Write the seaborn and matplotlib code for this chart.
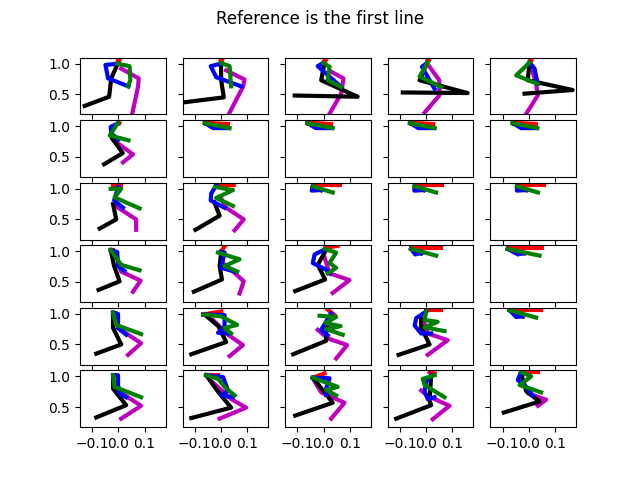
import matplotlib
matplotlib.use("Agg")
import matplotlib.pyplot as plt
import seaborn as sns

title = "Reference is the first line"
x_ticks = [-0.1, 0.0, 0.1]
y_ticks = [0.5, 1.0]

# One entry per panel (row-major, 6 rows x 5 columns)
red_x = [
    [0.0, 0.004], [0.0, 0.004], [0.004, 0.008], [0.006, 0.01], [0.006, 0.01],
    [0.0, 0.004], [-0.062, 0.027], [-0.062, 0.029], [-0.062, 0.027], [-0.062, 0.027],
    [-0.02, 0.011], [-0.018, 0.049], [-0.041, 0.061], [-0.044, 0.061], [-0.044, 0.057],
    [-0.029, -0.02], [0.014, 0.001], [0.01, 0.054], [-0.057, 0.057], [-0.08, 0.051],
    [-0.02, -0.012], [-0.068, 0.001], [0.016, 0.042], [0.0, 0.057], [-0.073, 0.047],
    [-0.02, -0.012], [-0.056, -0.011], [-0.034, 0.004], [0.013, 0.032], [-0.029, 0.034],
]
red_y = [
    [1.06, 1.05], [1.06, 1.05], [1.06, 1.05], [1.06, 1.05], [1.06, 1.05],
    [1.06, 1.05], [1.06, 1.035], [1.06, 1.035], [1.06, 1.035], [1.06, 1.035],
    [1.04, 1.04], [1.07, 1.06], [1.07, 1.07], [1.07, 1.07], [1.07, 1.07],
    [1.03, 1.03], [1.08, 1.0], [1.06, 1.09], [1.06, 1.06], [1.06, 1.06],
    [1.02, 1.02], [0.99, 1.04], [1.07, 0.98], [1.07, 1.07], [1.07, 1.07],
    [1.02, 1.02], [1.03, 1.03], [0.99, 1.05], [1.07, 1.05], [1.08, 1.08],
]

blue_x = [
    [0.0, -0.049, -0.039, 0.039], [0.0, -0.039, -0.018, 0.077], [-0.003, -0.022, 0.067],
    [0.0, -0.016, 0.032], [0.003, 0.022, 0.034],
    [-0.004, -0.029, -0.027, 0.0], [-0.056, -0.03, 0.027], [-0.056, -0.03, 0.029],
    [-0.056, -0.03, 0.027], [-0.056, -0.03, 0.027],
    [0.0, -0.016, 0.018], [-0.018, -0.037, -0.039, 0.014], [-0.041, -0.045, -0.01],
    [-0.044, -0.045, -0.01], [-0.044, -0.045, -0.01],
    [-0.029, -0.004, -0.001, 0.024], [0.0, 0.014, 0.001, 0.052],
    [0.004, -0.034, -0.041, 0.01, 0.023], [-0.057, -0.042, -0.019], [-0.08, -0.042, -0.017],
    [-0.02, -0.001, -0.001, 0.03], [-0.068, 0.014, 0.014, -0.011, 0.033],
    [0.029, -0.009, 0.016], [0.0, -0.038, -0.044, -0.019, 0.019], [-0.073, -0.048, -0.023],
    [-0.02, -0.001, -0.001, 0.005, 0.03], [-0.056, 0.008, 0.027, 0.001, 0.046],
    [-0.041, 0.023, 0.01, 0.01], [0.019, 0.0, -0.006, 0.006, 0.032], [-0.029, -0.042, -0.016, 0.015],
]
blue_y = [
    [1.0, 0.98, 0.76, 0.63], [1.0, 0.96, 0.78, 0.63], [1.01, 0.96, 0.62],
    [1.0, 0.95, 0.59], [1.02, 0.92, 0.67],
    [1.04, 0.99, 0.88, 0.78], [1.04, 0.97, 0.97], [1.04, 0.97, 0.97],
    [1.04, 0.97, 0.97], [1.04, 0.97, 0.97],
    [1.03, 0.81, 0.69], [1.06, 0.92, 0.81, 0.69], [1.04, 0.97, 0.98],
    [1.04, 0.97, 0.98], [1.04, 0.97, 0.98],
    [1.02, 0.99, 0.76, 0.68], [0.99, 0.98, 0.73, 0.67],
    [1.03, 0.95, 0.81, 0.7, 0.64], [1.04, 0.95, 0.97], [1.04, 0.95, 0.97],
    [1.02, 1.0, 0.77, 0.66], [0.99, 0.98, 0.79, 0.69, 0.68],
    [1.01, 0.74, 0.65], [1.04, 0.93, 0.81, 0.68, 0.68], [1.06, 0.95, 0.96],
    [1.02, 1.02, 0.86, 0.72, 0.66], [1.02, 0.99, 0.77, 0.69, 0.66],
    [0.98, 0.97, 0.8, 0.7], [1.02, 0.91, 0.76, 0.63, 0.66], [1.08, 0.94, 0.86, 0.69],
]

green_x = [
    [-0.004, 0.043, 0.046, 0.037], [0.001, 0.033, 0.039], [0.0, 0.023, 0.016, 0.067],
    [0.006, -0.025, 0.057], [0.003, -0.048, 0.034],
    [0.0, -0.033, 0.039], [-0.062, 0.033], [-0.062, 0.035], [-0.062, 0.033], [-0.062, 0.033],
    [-0.029, 0.011, -0.014, 0.081], [-0.022, 0.046, -0.018, 0.046], [-0.041, 0.035],
    [-0.044, 0.038], [-0.044, 0.035],
    [-0.029, 0.011, 0.081], [-0.011, 0.071, 0.014, 0.062],
    [0.004, 0.048, 0.023, 0.048, 0.016], [-0.057, 0.038], [-0.08, 0.041],
    [-0.02, -0.008, 0.087], [-0.068, 0.001, 0.062, 0.014, 0.039],
    [-0.015, 0.048, 0.006, 0.065, 0.01, 0.073], [0.0, -0.006, 0.044, -0.006, 0.07], [-0.073, 0.028],
    [-0.02, -0.014, 0.087], [-0.056, -0.011, 0.014, 0.052],
    [-0.041, 0.054, 0.01, 0.048], [0.032, -0.013, -0.006, 0.07], [-0.029, 0.009, -0.035, 0.047],
]
green_y = [
    [1.0, 0.96, 0.73, 0.63], [1.01, 0.96, 0.63], [1.01, 0.95, 0.73, 0.62],
    [1.02, 0.79, 0.62], [1.02, 0.81, 0.67],
    [1.06, 0.85, 0.77], [1.05, 0.97], [1.05, 0.97], [1.05, 0.97], [1.05, 0.97],
    [1.0, 1.0, 0.86, 0.68], [1.03, 0.98, 0.85, 0.72], [1.04, 0.94],
    [1.04, 0.94], [1.04, 0.94],
    [1.02, 0.78, 0.69], [0.98, 0.87, 0.76, 0.67],
    [1.04, 0.98, 0.81, 0.73, 0.64], [1.04, 0.93], [1.04, 0.93],
    [1.02, 0.82, 0.67], [0.99, 0.96, 0.82, 0.77, 0.68],
    [0.97, 0.95, 0.85, 0.8, 0.75, 0.66], [1.04, 0.9, 0.87, 0.78, 0.72], [1.06, 0.94],
    [1.02, 0.83, 0.66], [1.02, 0.96, 0.83, 0.69],
    [0.98, 0.83, 0.78, 0.69], [1.02, 0.96, 0.86, 0.66], [1.07, 1.0, 0.86, 0.74],
]

magenta_x = [
    [0.011, 0.078, 0.075, 0.053], [0.02, 0.09, 0.084, 0.033], [0.029, 0.076, 0.067, 0.023],
    [0.013, 0.05, 0.05, -0.006], [0.009, 0.028, 0.034, -0.01],
    [-0.008, 0.056, 0.018], [-0.056, 0.0], [-0.056, 0.0], [-0.056, 0.0], [-0.056, 0.0],
    [-0.011, 0.068, 0.068], [0.0, 0.02, 0.087, 0.052], [-0.041, -0.01],
    [-0.044, -0.01], [-0.044, -0.01],
    [0.0, 0.011, 0.085, 0.056], [0.01, 0.039, 0.087, 0.071],
    [0.004, 0.023, 0.099, 0.035], [-0.057, -0.019], [-0.08, -0.017],
    [-0.001, 0.087, 0.037], [-0.03, 0.027, 0.084, 0.033],
    [-0.022, 0.016, 0.09, 0.048], [-0.01, 0.006, 0.082, 0.006], [-0.073, -0.023],
    [-0.014, 0.087, 0.011], [-0.03, 0.039, 0.096, -0.005],
    [-0.041, -0.009, 0.08, 0.029], [-0.019, 0.006, 0.089, 0.025], [0.0, 0.066, 0.035],
]
magenta_y = [
    [0.92, 0.76, 0.62, 0.18], [0.89, 0.74, 0.62, 0.2], [0.87, 0.76, 0.51, 0.18],
    [0.95, 0.73, 0.48, 0.2], [0.95, 0.67, 0.48, 0.18],
    [0.74, 0.54, 0.41], [1.04, 0.99], [1.04, 0.99], [1.04, 0.99], [1.04, 0.99],
    [0.72, 0.5, 0.33], [0.85, 0.69, 0.5, 0.32], [1.04, 0.98],
    [1.04, 0.98], [1.04, 0.98],
    [0.8, 0.67, 0.52, 0.34], [0.8, 0.7, 0.51, 0.31],
    [0.9, 0.64, 0.53, 0.32], [1.04, 0.97], [1.04, 0.97],
    [0.77, 0.52, 0.33], [0.9, 0.66, 0.49, 0.31],
    [0.74, 0.6, 0.49, 0.27], [0.9, 0.68, 0.57, 0.33], [1.06, 0.96],
    [0.8, 0.52, 0.31], [0.9, 0.63, 0.49, 0.31],
    [0.97, 0.74, 0.57, 0.31], [0.77, 0.68, 0.52, 0.3], [0.72, 0.62, 0.52],
]

black_x = [
    [0.0, -0.027, -0.035, -0.128], [0.0, 0.001, 0.011, -0.138], [0.004, -0.009, 0.13, -0.11],
    [0.004, -0.025, 0.158, -0.089], [0.003, -0.004, 0.167, -0.016],
    [-0.02, -0.025, 0.017, -0.054], [-0.056, 0.0], [-0.056, 0.0], [-0.056, 0.0], [-0.056, 0.0],
    [-0.02, -0.008, -0.071], [-0.025, -0.005, -0.097], [-0.041, -0.01],
    [-0.044, -0.01], [-0.044, -0.01],
    [-0.029, -0.016, 0.005, -0.075], [0.001, -0.005, 0.004, -0.103],
    [0.004, -0.022, 0.006, -0.108], [-0.057, -0.019], [-0.08, -0.017],
    [-0.02, -0.02, 0.011, -0.084], [-0.062, -0.01, 0.02, -0.113],
    [0.029, 0.01, 0.01, -0.116], [-0.019, -0.019, 0.013, -0.105], [-0.073, -0.023],
    [-0.02, -0.02, 0.03, -0.084], [-0.056, -0.011, 0.039, -0.113],
    [-0.041, 0.004, 0.035, -0.108], [0.019, 0.013, 0.019, -0.114], [-0.029, -0.01, 0.041, -0.095],
]
black_y = [
    [1.02, 0.76, 0.46, 0.31], [1.02, 0.73, 0.45, 0.37], [1.02, 0.73, 0.46, 0.48],
    [1.02, 0.73, 0.52, 0.53], [1.02, 0.73, 0.57, 0.51],
    [0.85, 0.81, 0.56, 0.38], [1.04, 0.99], [1.04, 0.99], [1.04, 0.99], [1.04, 0.99],
    [0.75, 0.5, 0.35], [0.78, 0.56, 0.33], [1.04, 0.98],
    [1.04, 0.98], [1.04, 0.98],
    [1.02, 0.76, 0.51, 0.37], [0.98, 0.76, 0.54, 0.34],
    [0.98, 0.78, 0.54, 0.35], [1.04, 0.97], [1.04, 0.97],
    [1.02, 0.77, 0.5, 0.35], [0.99, 0.8, 0.54, 0.34],
    [1.01, 0.73, 0.56, 0.34], [0.92, 0.78, 0.5, 0.33], [1.06, 0.96],
    [1.02, 0.8, 0.53, 0.33], [1.02, 0.75, 0.49, 0.32],
    [0.98, 0.74, 0.57, 0.36], [1.02, 0.6, 0.53, 0.31], [1.05, 0.76, 0.59, 0.41],
]

series = [
    ("m", magenta_x, magenta_y),
    ("k", black_x, black_y),
    ("r", red_x, red_y),
    ("b", blue_x, blue_y),
    ("g", green_x, green_y),
]

fig, axes = plt.subplots(6, 5, sharex=True, sharey=True, figsize=(6.4, 4.8), dpi=100)
fig.subplots_adjust(hspace=0.1)
fig.suptitle(title)

for i, ax in enumerate(axes.flat):
    for color, xs, ys in series:
        sns.lineplot(x=xs[i], y=ys[i], sort=False, estimator=None, color=color,
                     linewidth=3, legend=False, ax=ax)
    ax.set_xlim(-0.146, 0.18)
    ax.set_ylim(0.17, 1.10)
    ax.set_xticks(x_ticks)
    ax.set_yticks(y_ticks)

fig.savefig("out.png", dpi=100)
